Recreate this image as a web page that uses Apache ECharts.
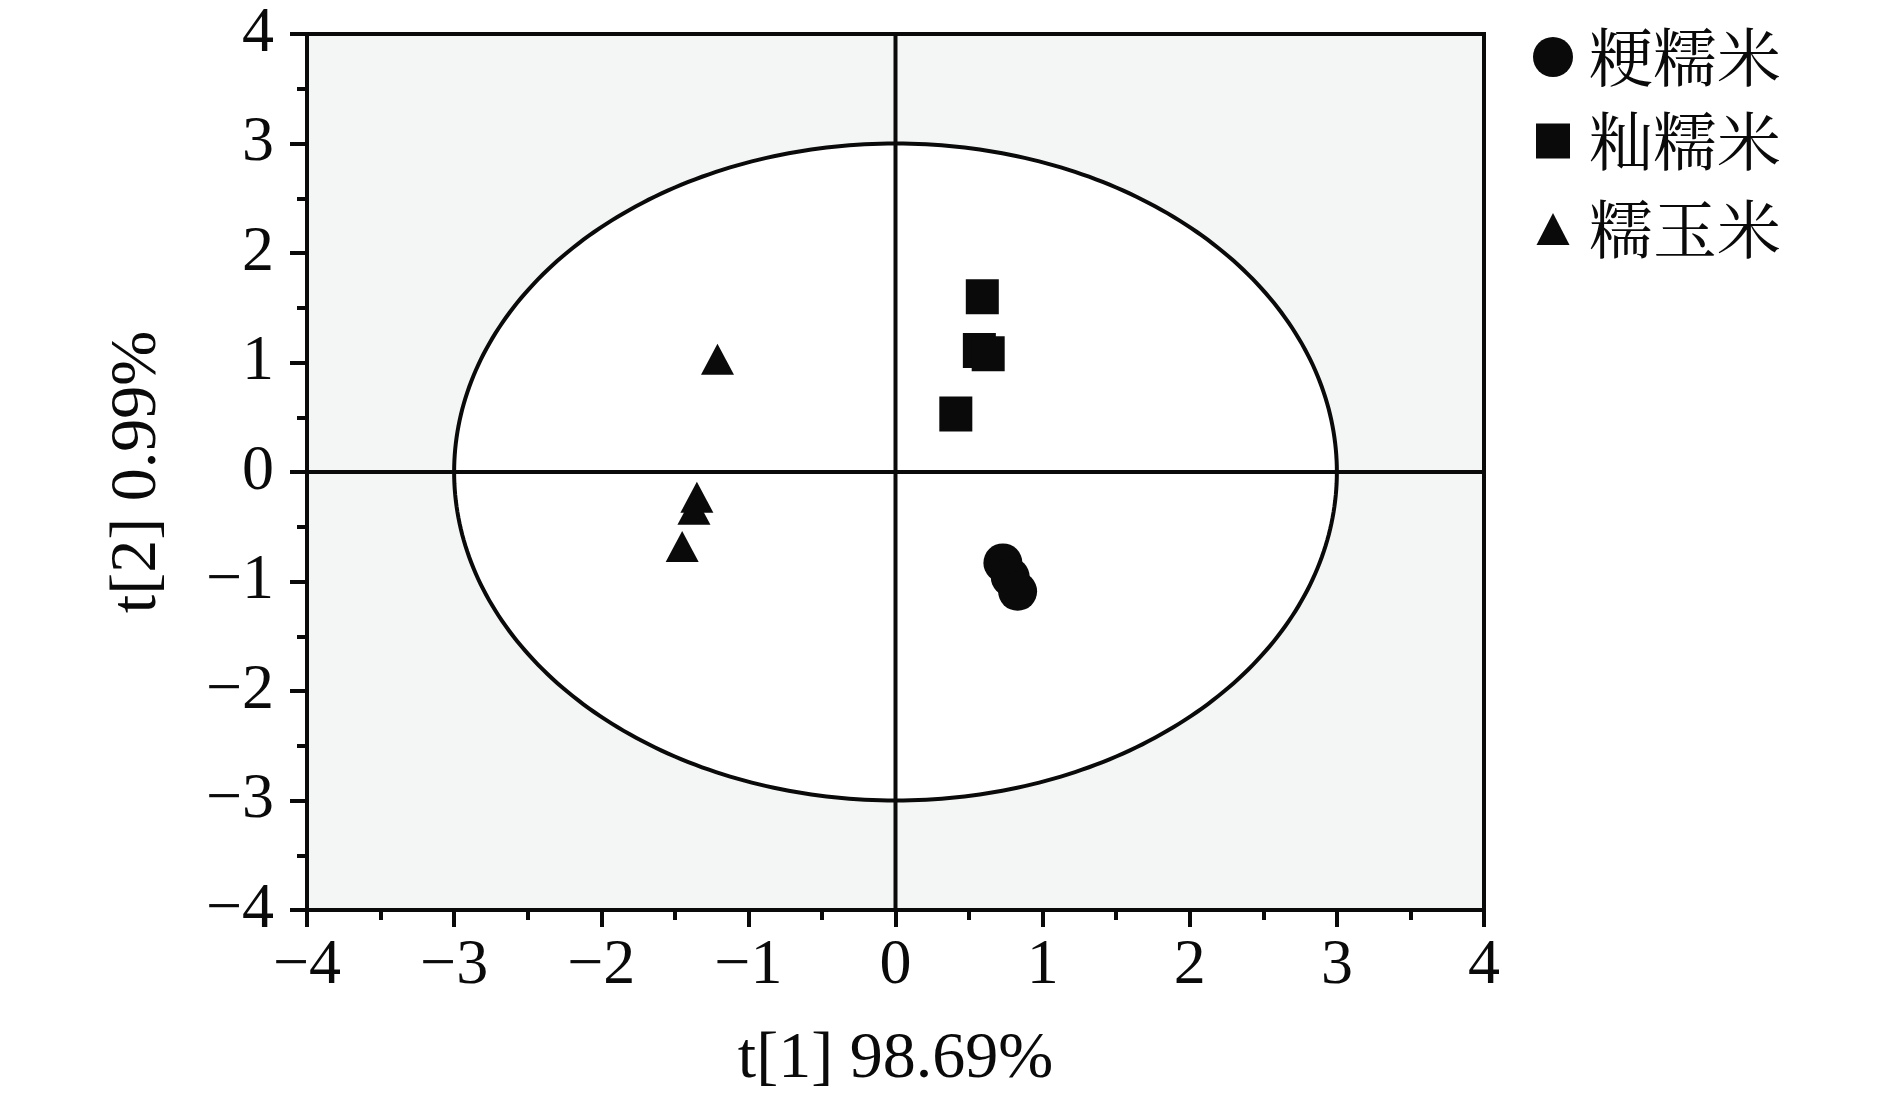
<!DOCTYPE html>
<html>
<head>
<meta charset="utf-8">
<script src="https://cdn.jsdelivr.net/npm/echarts@6/dist/echarts.min.js"></script>
<style>
html,body{margin:0;padding:0;background:#fff;}
#chart{width:1890px;height:1101px;}
</style>
</head>
<body>
<div id="chart"></div>
<script>
// ---- data ----
const seriesNames = ['粳糯米', '籼糯米', '糯玉米'];
const japonicaPoints = [[0.73, -0.83], [0.78, -0.96], [0.83, -1.09]];
const indicaPoints = [[0.59, 1.60], [0.57, 1.11], [0.63, 1.08], [0.41, 0.53]];
const maizePoints = [[-1.21, 1.03], [-1.35, -0.23], [-1.37, -0.34], [-1.45, -0.68]];
const ellipseRadii = [3, 3];      // Hotelling T2 ellipse semi-axes (t[1], t[2])
const xTitle = 't[1] 98.69%';
const yTitle = 't[2] 0.99%';
const axisMin = -4, axisMax = 4, axisStep = 1;

const SERIF = '"Liberation Serif", "Times New Roman", serif';
const CJK = '"Noto Serif CJK SC", "Noto Sans CJK SC", serif';
const INK = '#0a0a0a';

const fmt = v => v < 0 ? '\u2212' + (-v) : String(v);

function axisCommon(name) {
  return {
    type: 'value', min: axisMin, max: axisMax, interval: axisStep,
    name: name, nameLocation: 'middle',
    nameTextStyle: { fontFamily: SERIF, fontSize: 66, color: INK },
    axisLine: { show: true, onZero: false, lineStyle: { color: INK, width: 4 } },
    axisTick: { show: true, inside: false, length: 17, lineStyle: { color: INK, width: 4 } },
    minorTick: { show: true, splitNumber: 2, length: 10, lineStyle: { color: INK, width: 4 } },
    axisLabel: { fontFamily: SERIF, fontSize: 64, color: INK, formatter: fmt },
    splitLine: { show: false }
  };
}

const xAxis = axisCommon(xTitle);
xAxis.nameGap = 117;
xAxis.axisLabel.margin = 24;
const yAxis = axisCommon(yTitle);
yAxis.nameGap = 136;
yAxis.axisLabel.margin = 33;

const chart = echarts.init(document.getElementById('chart'));

function legendFor(name, icon, w, h, top) {
  return {
    data: [{ name: name, icon: icon }],
    orient: 'vertical', left: 1548 - w / 2, top: top,
    itemWidth: w, itemHeight: h,
    textStyle: { fontFamily: CJK, fontSize: 64, color: INK, padding: [0, 0, 0, 31 - w / 2] },
    selectedMode: false
  };
}

chart.setOption({
  animation: false,
  grid: {
    left: 307, right: 406, top: 34, bottom: 191,
    show: true, backgroundColor: '#f4f5f5', borderColor: INK, borderWidth: 4
  },
  xAxis: xAxis,
  yAxis: yAxis,
  legend: [
    legendFor(seriesNames[0], 'circle', 40, 40, 20),
    legendFor(seriesNames[1], 'rect', 34, 35, 104),
    legendFor(seriesNames[2], 'triangle', 33, 32, 192)
  ],
  series: [
    {
      type: 'custom',
      silent: true,
      z: 1,
      data: [[0, 0, ellipseRadii[0], ellipseRadii[1]]],
      renderItem: function (params, api) {
        const cx = api.value(0), cy = api.value(1), rx = api.value(2), ry = api.value(3);
        const pts = [];
        for (let i = 0; i < 360; i++) {
          const a = i * Math.PI / 180;
          pts.push(api.coord([cx + rx * Math.cos(a), cy + ry * Math.sin(a)]));
        }
        const l0 = api.coord([axisMin, 0]), l1 = api.coord([axisMax, 0]);
        const v0 = api.coord([0, axisMin]), v1 = api.coord([0, axisMax]);
        return {
          type: 'group',
          children: [
            { type: 'polygon', shape: { points: pts }, style: { fill: '#ffffff', stroke: INK, lineWidth: 4 } },
            { type: 'line', shape: { x1: l0[0], y1: l0[1], x2: l1[0], y2: l1[1] }, style: { stroke: INK, lineWidth: 4 } },
            { type: 'line', shape: { x1: v0[0], y1: v0[1], x2: v1[0], y2: v1[1] }, style: { stroke: INK, lineWidth: 4 } }
          ]
        };
      }
    },
    { name: seriesNames[0], type: 'scatter', z: 3, symbol: 'circle', symbolSize: 39, itemStyle: { color: INK, opacity: 1 }, data: japonicaPoints },
    { name: seriesNames[1], type: 'scatter', z: 3, symbol: 'rect', symbolSize: [33, 35], itemStyle: { color: INK, opacity: 1 }, data: indicaPoints },
    { name: seriesNames[2], type: 'scatter', z: 3, symbol: 'triangle', symbolSize: [33, 31], itemStyle: { color: INK, opacity: 1 }, data: maizePoints }
  ]
});
</script>
</body>
</html>
